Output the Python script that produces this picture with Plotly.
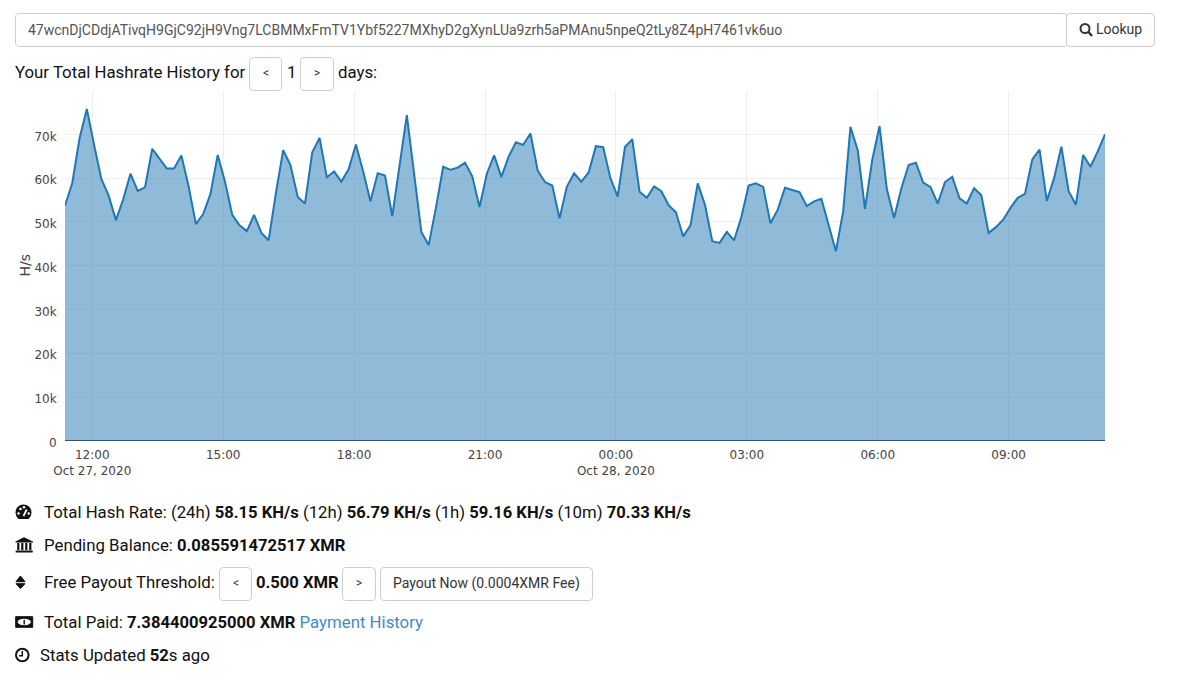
import pandas as pd
import plotly.graph_objects as go

hashrate_k = [
    53.7, 58.9, 69.1, 75.8, 67.6, 59.8, 56.0, 50.4, 55.1, 61.0, 57.1, 57.9,
    66.7, 64.4, 62.2, 62.2, 65.2, 58.1, 49.5, 51.8, 56.4, 65.3, 59.2, 51.6,
    49.2, 47.9, 51.6, 47.5, 45.8, 56.6, 66.4, 63.0, 55.7, 54.2, 65.9, 69.2,
    60.2, 61.5, 59.2, 62.0, 67.7, 61.5, 54.7, 61.1, 60.6, 51.3, 63.4, 74.4,
    61.0, 47.7, 44.7, 53.2, 62.6, 61.9, 62.4, 63.5, 60.4, 53.4, 61.0, 65.2,
    60.3, 64.9, 68.2, 67.6, 70.2, 61.7, 59.1, 58.3, 50.8, 58.0, 61.1, 59.2,
    61.3, 67.3, 67.1, 60.0, 55.8, 67.1, 68.9, 56.9, 55.5, 58.1, 57.0, 53.8,
    52.2, 46.7, 49.2, 58.8, 53.9, 45.6, 45.2, 47.7, 45.8, 51.1, 58.3, 58.8,
    58.0, 49.7, 52.8, 57.8, 57.3, 56.8, 53.6, 54.7, 55.3, 49.4, 43.3, 52.4,
    71.7, 66.4, 53.0, 64.2, 71.9, 57.5, 50.9, 57.7, 63.0, 63.5, 59.0, 58.0,
    54.2, 59.1, 60.3, 55.4, 54.2, 57.7, 56.1, 47.5, 48.8, 50.5, 53.2, 55.5,
    56.4, 64.3, 66.5, 54.8, 60.0, 67.2, 57.0, 53.9, 65.3, 62.6, 66.1, 70.0,
]
first_sample = "2020-10-27 11:22:30"
sample_step = "10min"
address = "47wcnDjCDdjATivqH9GjC92jH9Vng7LCBMMxFmTV1Ybf5227MXhyD2gXynLUa9zrh5aPMAnu5npeQ2tLy8Z4pH7461vk6uo"


def B(s):
    return f'<span style="font-size:16.6px"><b>{s}</b></span>'


line_hash = (f"Total Hash Rate: (24h) {B('58.15 KH/s')} (12h) {B('56.79 KH/s')} "
             f"(1h) {B('59.16 KH/s')} (10m) {B('70.33 KH/s')}")
line_pending = f"Pending Balance: {B('0.085591472517 XMR')}"
line_paid = f'Total Paid: {B("7.384400925000 XMR")} <span style="color:#428bca">Payment History</span>'
line_stats = f"Stats Updated {B('52')}s ago"

W, H = 1191, 676
PX = lambda x: x / W
PY = lambda y: 1 - y / H
BODY = 16.8
INK = "#111"

times = pd.date_range(first_sample, periods=len(hashrate_k), freq=sample_step)
x_vals = [t.strftime("%Y-%m-%d %H:%M:%S") for t in times]
y_vals = [v * 1000 for v in hashrate_k]

fig = go.Figure(go.Scatter(
    x=x_vals, y=y_vals, mode="lines", fill="tozeroy",
    line=dict(color="#1f77b4", width=2),
    fillcolor="rgba(31,119,180,0.5)", hoverinfo="x+y",
))

shapes, annotations = [], []


def path(d, fill=None, line=None, width=1):
    parts, out = d.split(), []
    i = 0
    while i < len(parts):
        tok = parts[i]
        if tok in ("M", "L", "Q"):
            out.append(tok)
            i += 1
        elif tok == "Z":
            out.append("Z")
            i += 1
        else:
            out.append(f"{PX(float(parts[i])):.6f},{PY(float(parts[i + 1])):.6f}")
            i += 2
    shapes.append(dict(type="path", xref="paper", yref="paper", path=" ".join(out),
                       fillcolor=fill or "rgba(0,0,0,0)",
                       line=dict(color=line or "rgba(0,0,0,0)", width=width), layer="above"))


def box(x0, y0, x1, y1, r=4, fill="#fff", line="#ccc"):
    d = (f"M {x0 + r} {y0} L {x1 - r} {y0} Q {x1} {y0} {x1} {y0 + r} L {x1} {y1 - r} "
         f"Q {x1} {y1} {x1 - r} {y1} L {x0 + r} {y1} Q {x0} {y1} {x0} {y1 - r} "
         f"L {x0} {y0 + r} Q {x0} {y0} {x0 + r} {y0} Z")
    path(d, fill=fill, line=line, width=1)


def circle(cx, cy, r, fill=None, line=None, width=1):
    shapes.append(dict(type="circle", xref="paper", yref="paper",
                       x0=PX(cx - r), x1=PX(cx + r), y0=PY(cy + r), y1=PY(cy - r),
                       fillcolor=fill or "rgba(0,0,0,0)",
                       line=dict(color=line or "rgba(0,0,0,0)", width=width), layer="above"))


def text(x, y, s, size=BODY, color=INK, anchor="left"):
    annotations.append(dict(x=PX(x), y=PY(y), xref="paper", yref="paper", text=s, showarrow=False,
                            xanchor=anchor, yanchor="middle", borderpad=0, borderwidth=0,
                            font=dict(family="Roboto", size=size, color=color)))


# y axis label
annotations.append(dict(x=PX(24), y=PY(265.5), xref="paper", yref="paper", text="H/s", showarrow=False,
                        textangle=-90, xanchor="center", yanchor="middle", borderpad=0,
                        font=dict(family="DejaVu Sans", size=14, color="#444")))

# search row
box(15.5, 13.5, 1067.5, 46.5)
box(1066.5, 13.5, 1154.5, 46.5)
text(28, 30, address, size=14, color="#555")
text(1095.5, 29.5, "Lookup", size=14, color="#333")
circle(1085, 28.5, 4.5, line="#333", width=2)
path("M 1088.5 32 L 1092 36", line="#333", width=2.4)

# days row
text(15, 72, "Your Total Hashrate History for")
box(249.5, 57.5, 281.5, 90.5)
text(265.5, 73, "&lt;", size=12, color="#333", anchor="center")
text(291, 72, "1", anchor="center")
box(300.5, 57.5, 333.5, 90.5)
text(317, 73, "&gt;", size=12, color="#333", anchor="center")
text(338, 72, "days:")

# stats rows
text(44, 512, line_hash)
text(44, 545, line_pending)
text(44, 582, "Free Payout Threshold:")
box(219.5, 567.5, 251.5, 600.5)
text(235.5, 583, "&lt;", size=12, color="#333", anchor="center")
text(256, 582, B("0.500 XMR"))
box(342.5, 567.5, 375.5, 600.5)
text(359, 583, "&gt;", size=12, color="#333", anchor="center")
box(380.5, 567.5, 592.5, 600.5)
text(486.5, 583, "Payout Now (0.0004XMR Fee)", size=14, color="#333", anchor="center")
text(44, 622, line_paid)
text(40, 655, line_stats)

# icons
circle(23.5, 512.5, 8, fill="#111")
path("M 14 519 L 33 519 L 33 522 L 14 522 Z", fill="#fff")
for cx, cy in [(18.5, 513.5), (20.5, 509), (24, 507.2), (28.7, 513.5)]:
    circle(cx, cy, 1.3, fill="#fff")
path("M 23.5 516 L 26.7 509.5", line="#fff", width=1.8)
path("M 15.7 542 L 24 537.7 L 32.7 542 Z", fill="#111", line="#111")
for bx in (18.3, 22.3, 26.3, 30.3):
    path(f"M {bx} 543 L {bx} 550", line="#111", width=2.2)
path("M 15.7 551.5 L 32.7 551.5", line="#111", width=2)
path("M 16 581.7 L 25 581.7 L 20.4 576 Z", fill="#111", line="#111")
path("M 16 583.7 L 25 583.7 L 20.4 588.5 Z", fill="#111", line="#111")
path("M 15.7 616.7 L 32.7 616.7 L 32.7 627.3 L 15.7 627.3 Z", fill="#111", line="#111")
path("M 17.5 622 Q 19 618.7 24.2 618.7 Q 29.4 618.7 31 622 Q 29.4 625.3 24.2 625.3 Q 19 625.3 17.5 622 Z",
     fill="#fff")
path("M 24.2 619.8 L 24.2 624.4", line="#111", width=1.4)
circle(22.3, 655, 6.3, line="#111", width=2)
path("M 22.3 651 L 22.3 655.7 L 19 655.7", line="#111", width=1.5)

TRANSPARENT = "rgba(0,0,0,0)"
fig.update_layout(
    width=W, height=H, autosize=False,
    margin=dict(l=0, r=0, t=0, b=0),
    paper_bgcolor="#fff", plot_bgcolor="#fff", showlegend=False,
    font=dict(family="DejaVu Sans", size=12, color="#444"),
    shapes=shapes, annotations=annotations,
    xaxis=dict(domain=[PX(65), PX(1105)], type="date", range=[x_vals[0], x_vals[-1]],
               dtick=3 * 3600 * 1000, tick0="2020-10-27 00:00:00", automargin=False,
               ticks="outside", ticklen=3, tickcolor=TRANSPARENT,
               showgrid=True, gridcolor="#eee", zeroline=False, showline=False),
    yaxis=dict(domain=[PY(440.8), PY(91)], range=[0, 79900], dtick=10000, automargin=False,
               ticks="outside", ticklen=5, tickcolor=TRANSPARENT, ticklabelshift=2,
               showgrid=True, gridcolor="#eee", zeroline=True, zerolinecolor="#444",
               zerolinewidth=1),
)
fig.write_html("out.html", config=dict(displayModeBar=False),
               post_script="document.body.style.margin='0';document.body.style.overflow='hidden';")
